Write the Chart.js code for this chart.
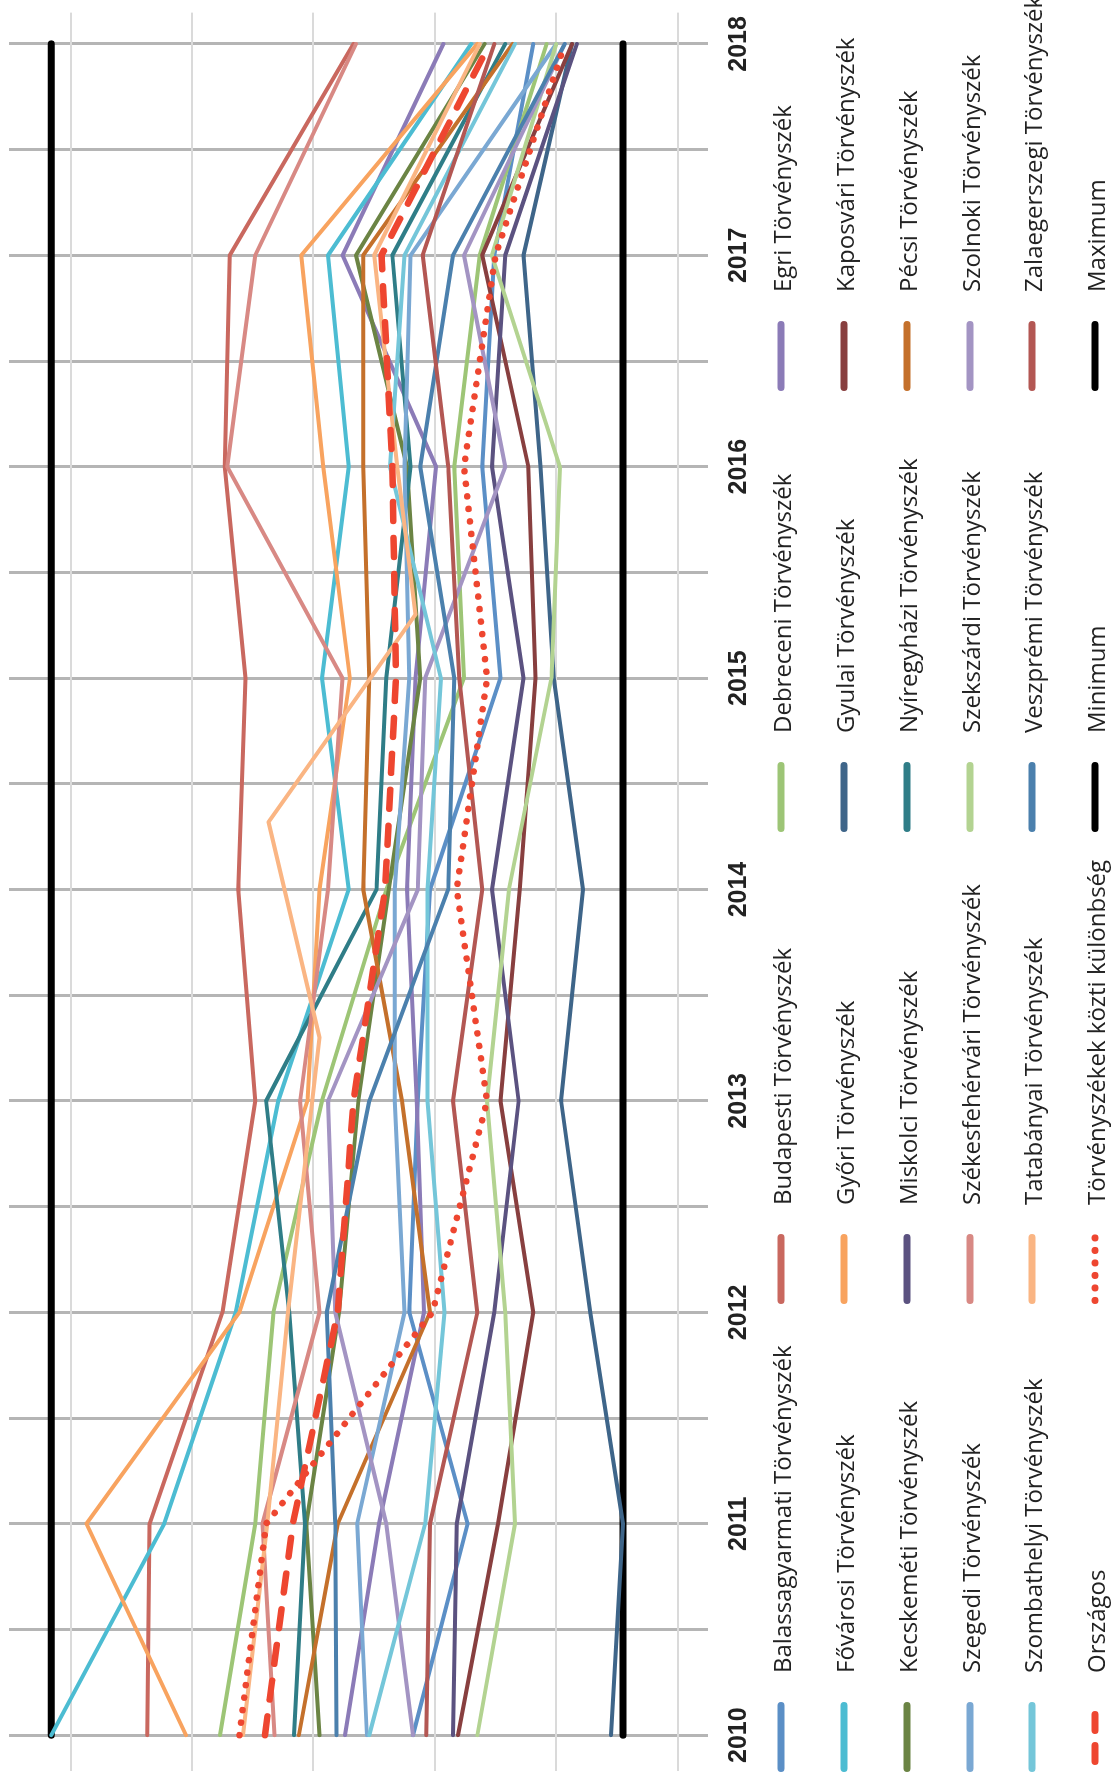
<!DOCTYPE html>
<html><head><meta charset="utf-8">
<script src="https://cdn.jsdelivr.net/npm/chart.js@4.4.1/dist/chart.umd.min.js"></script>
<style>
html,body{margin:0;padding:0;background:#fff;overflow:hidden;width:1114px;height:1779px;}
#rot{position:absolute;left:0;top:1779px;width:1779px;height:1114px;transform-origin:0 0;transform:rotate(-90deg);}
#c{position:absolute;left:0;top:0;}
#legend{position:absolute;left:0;top:0;width:1779px;height:1114px;font-family:'Open Sans',sans-serif;font-size:24px;color:#222;}
.item{position:absolute;height:34px;display:flex;align-items:center;white-space:nowrap;}
.item svg{display:block;margin-right:29px;}
</style>
</head><body>
<div id="rot"><canvas id="c" width="1779" height="778"></canvas><div id="legend"></div></div>
<script>
const years = [2010, 2011, 2012, 2013, 2014, 2015, 2016, 2017, 2018];
// the Tatabányai line bends between the year lines in the picture
const tatabanyaiYears = [2010, 2011, 2012, 2013.3, 2014.32, 2015.3, 2016, 2017, 2018];
const gridValues = [0, 10, 20, 30, 40, 50];

const balassagyarmati = [21.8, 17.3, 22.1, 21.4, 20.4, 14.6, 16.1, 15.1, 11.9];
const budapesti       = [43.7, 43.5, 37.5, 34.8, 36.2, 35.6, 37.3, 36.9, 26.7];
const debreceni       = [37.7, 34.8, 33.3, 29.3, 24.0, 17.6, 18.4, 16.3, 10.8];
const egri            = [27.4, 24.6, 20.9, 21.5, 22.3, 21.6, 19.9, 27.6, 19.3];
const fovarosi        = [51.6, 42.3, 36.4, 32.9, 27.1, 29.3, 27.1, 28.8, 17.0];
const gyori           = [40.5, 48.7, 36.1, 30.5, 29.5, 27.0, 29.2, 31.0, 16.5];
const gyulai          = [5.5, 4.5, 7.2, 9.6, 7.8, 10.2, 11.3, 12.7, 8.7];
const kaposvari       = [18.1, 14.8, 11.9, 14.6, 13.0, 11.7, 12.3, 16.1, 8.7];
const kecskemeti      = [29.5, 30.6, 27.9, 26.3, 23.8, 21.2, 22.3, 26.5, 15.9];
const miskolci        = [18.5, 18.2, 15.1, 13.1, 15.3, 12.7, 15.3, 14.2, 8.3];
const nyiregyhazi     = [31.6, 30.7, 32.0, 33.9, 24.8, 24.0, 22.0, 23.5, 14.2];
const pecsi           = [31.2, 28.0, 20.4, 22.7, 25.9, 25.4, 25.9, 25.9, 13.6];
const szegedi         = [25.6, 26.4, 22.5, 23.3, 23.3, 22.1, 22.5, 22.0, 10.0];
const szekesfehervari = [33.2, 34.2, 29.5, 31.1, 28.8, 27.6, 37.1, 34.8, 26.5];
const szekszardi      = [16.5, 13.4, 14.2, 15.7, 13.9, 10.4, 9.7, 15.3, 10.0];
const szolnoki        = [21.8, 24.0, 28.2, 28.8, 21.4, 20.8, 14.2, 17.6, 9.3];
const szombathelyi    = [25.4, 20.8, 19.2, 20.6, 20.6, 19.5, 23.7, 22.5, 13.4];
const tatabanyai      = [35.8, 33.8, 32.1, 29.5, 33.7, 21.6, 23.1, 25.0, 16.3];
const veszpremi       = [28.1, 28.2, 28.9, 25.4, 18.9, 18.4, 21.2, 18.5, 9.3];
const zalaegerszegi   = [20.7, 20.4, 16.5, 18.5, 16.1, 18.0, 18.9, 21.0, 15.1];
const orszagos        = [34.0, 31.7, 28.0, 26.7, 24.1, 23.2, 23.5, 24.4, 15.5];
const kulonbseg       = [36.1, 33.9, 20.2, 15.7, 18.2, 15.7, 17.6, 15.0, 9.3];
const minimum         = [4.5, 4.5, 4.5, 4.5, 4.5, 4.5, 4.5, 4.5, 4.5];
const maximum         = [51.6, 51.6, 51.6, 51.6, 51.6, 51.6, 51.6, 51.6, 51.6];

const series = [
  ['Balassagyarmati Törvényszék', balassagyarmati, '#5b8fc6', 'solid'],
  ['Budapesti Törvényszék', budapesti, '#c9685f', 'solid'],
  ['Debreceni Törvényszék', debreceni, '#9dc576', 'solid'],
  ['Egri Törvényszék', egri, '#8b7bb7', 'solid'],
  ['Fővárosi Törvényszék', fovarosi, '#4cbcd2', 'solid'],
  ['Győri Törvényszék', gyori, '#f8a35f', 'solid'],
  ['Gyulai Törvényszék', gyulai, '#3e6589', 'solid'],
  ['Kaposvári Törvényszék', kaposvari, '#883f3f', 'solid'],
  ['Kecskeméti Törvényszék', kecskemeti, '#6b8444', 'solid'],
  ['Miskolci Törvényszék', miskolci, '#5b5280', 'solid'],
  ['Nyíregyházi Törvényszék', nyiregyhazi, '#2f7d87', 'solid'],
  ['Pécsi Törvényszék', pecsi, '#c4702b', 'solid'],
  ['Szegedi Törvényszék', szegedi, '#7aa8d3', 'solid'],
  ['Székesfehérvári Törvényszék', szekesfehervari, '#d88984', 'solid'],
  ['Szekszárdi Törvényszék', szekszardi, '#b3d391', 'solid'],
  ['Szolnoki Törvényszék', szolnoki, '#a394c3', 'solid'],
  ['Szombathelyi Törvényszék', szombathelyi, '#74c6d9', 'solid'],
  ['Tatabányai Törvényszék', tatabanyai, '#fab583', 'solid', tatabanyaiYears],
  ['Veszprémi Törvényszék', veszpremi, '#4b80ad', 'solid'],
  ['Zalaegerszegi Törvényszék', zalaegerszegi, '#b35753', 'solid'],
  ['Országos', orszagos, '#ee4630', 'dash'],
  ['Törvényszékek közti különbség', kulonbseg, '#ee4630', 'dot'],
  ['Minimum', minimum, '#000000', 'black'],
  ['Maximum', maximum, '#000000', 'black']
];

const styleOf = {
  solid: { w: 4, dash: [] },
  dash:  { w: 6.5, dash: [19, 17] },
  dot:   { w: 6.5, dash: [0.1, 12.5] },
  black: { w: 7, dash: [] }
};

const drawOrder = [20, 21].concat(series.map((s, i) => i).filter(i => i < 20).reverse(), [22, 23]);
const datasets = drawOrder.map(i => {
  const [name, vals, color, st, xs] = series[i];
  const xv = xs || years;
  return {
    label: name,
    data: vals.map((v, k) => ({ x: xv[k], y: v })),
    borderColor: color,
    backgroundColor: color,
    borderWidth: styleOf[st].w,
    borderDash: styleOf[st].dash,
    borderCapStyle: 'round',
    borderJoinStyle: 'round',
    pointRadius: 0,
    tension: 0,
    fill: false
  };
});

const X_MIN = 2009.83, X_MAX = 2018.148;
const Y_MIN = -2.5, Y_MAX = 55.08;
const xTicks = [];
for (let v = years[0]; v <= years[years.length - 1] + 1e-9; v += 0.5) xTicks.push(v);

new Chart(document.getElementById('c').getContext('2d'), {
  type: 'line',
  data: { datasets },
  options: {
    responsive: false,
    animation: false,
    devicePixelRatio: 1,
    layout: { padding: { left: 7, right: 6, top: 9, bottom: 8 } },
    plugins: { legend: { display: false }, tooltip: { enabled: false } },
    scales: {
      x: {
        type: 'linear', min: X_MIN, max: X_MAX,
        afterBuildTicks: s => { s.ticks = xTicks.map(v => ({ value: v })); },
        ticks: {
          autoSkip: false, maxRotation: 0, minRotation: 0, padding: 16, color: '#222',
          font: { family: "'Liberation Sans', Arial, sans-serif", size: 25, weight: 'bold' },
          callback: v => Number.isInteger(v) ? String(v) : ''
        },
        grid: { color: '#b5b5b5', lineWidth: 3, drawTicks: false },
        border: { display: false }
      },
      y: {
        type: 'linear', min: Y_MIN, max: Y_MAX,
        afterBuildTicks: s => { s.ticks = gridValues.map(v => ({ value: v })); },
        ticks: { display: false },
        grid: { color: '#dadada', lineWidth: 2, drawTicks: false },
        border: { display: false }
      }
    }
  }
});

const legendRowY = [781, 844, 907, 970, 1032, 1095];
const legendColX = [7, 475, 947, 1388];
const legend = document.getElementById('legend');
series.forEach(([name, vals, color, st], i) => {
  const r = Math.floor(i / 4), c = i % 4;
  const item = document.createElement('div');
  item.className = 'item';
  item.style.left = legendColX[c] + 'px';
  item.style.top = (legendRowY[r] - 17) + 'px';
  const dash = st === 'dash' ? 'stroke-dasharray="16 15" stroke-dashoffset="24"' : (st === 'dot' ? 'stroke-dasharray="0.1 12.4"' : '');
  item.innerHTML = '<svg width="70" height="10"><line x1="3.5" y1="5" x2="66.5" y2="5" stroke="' + color +
    '" stroke-width="7" stroke-linecap="round" ' + dash + '/></svg><span>' + name + '</span>';
  legend.appendChild(item);
});
</script>
</body></html>
